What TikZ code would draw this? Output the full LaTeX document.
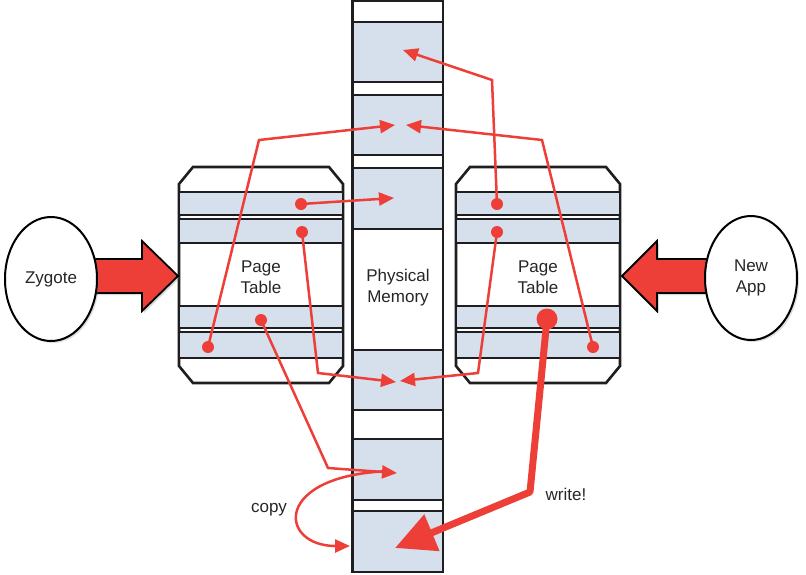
\documentclass[tikz,border=0pt]{standalone}
\usepackage{fontspec}
\setmainfont{Liberation Sans}
\usetikzlibrary{arrows.meta,shadows,shapes.geometric}
\definecolor{pblue}{RGB}{214,224,236}
\definecolor{pred}{RGB}{238,62,56}
\definecolor{pline}{RGB}{30,30,32}
\begin{document}
\begin{tikzpicture}[x=1pt,y=-1pt,
  box/.style={draw=pline,line width=2.6pt,fill=pblue},
  frame/.style={draw=pline,line width=2.6pt,fill=white},
  lbl/.style={font=\fontsize{17}{21}\selectfont,align=center,text=black!85,inner sep=0pt},
  dot/.style={circle,fill=pred,inner sep=0pt,minimum size=12pt},
  bigdot/.style={circle,fill=pred,inner sep=0pt,minimum size=21pt},
  redline/.style={draw=pred,line width=2.5pt,-{Triangle[length=15pt,width=13pt]}},
  thickline/.style={draw=pred,line width=7pt,-{Triangle[length=40pt,width=38pt]}},
  proc/.style={ellipse,draw=black,line width=2pt,fill=white,minimum width=92pt,minimum height=124pt,
    drop shadow={opacity=0.25,shadow xshift=2pt,shadow yshift=-2pt}},
  blockarrow/.style={draw=black,line width=1.8pt,fill=pred,line join=miter,
    drop shadow={opacity=0.3,shadow xshift=2pt,shadow yshift=-2pt}},
  pics/ptable/.style={code={
    \draw[frame] (14,0) -- (150,0) -- (164,17) -- (164,199) -- (150,216) -- (14,216) -- (0,199) -- (0,17) -- cycle;
    \foreach \a/\b in {25/48,52/76,139/161,165/191}
      \draw[box] (0,\a) rectangle (164,\b);
    \node[lbl] (-txt) at (82,110) {Page\\Table};
  }}
]
\useasboundingbox (0,0) rectangle (806,574);

% physical memory column
\draw[frame] (352.5,1) rectangle (443,572);
\foreach \a/\b in {22/82,95/155,168/229,350/410,439/500,511/572}
  \draw[box] (352.5,\a) rectangle (443,\b);
\node[lbl] (pm) at (398,288) {Physical\\Memory};

% page tables
\pic (lt) at (179,167) {ptable};
\pic (rt) at (456,167) {ptable};

% block arrows
\path[blockarrow] (90,259) -- (142,259) -- (142,241) -- (178,276) -- (142,311) -- (142,293) -- (90,293) -- cycle;
\path[blockarrow] (710,259) -- (657,259) -- (657,241) -- (622,276) -- (657,311) -- (657,293) -- (710,293) -- cycle;

% processes
\node[proc,lbl] (zyg) at (51,279) {Zygote};
\node[proc,lbl] (app) at (751,278) {New\\App};

% dots
\node[dot] (l1) at (301,204) {};
\node[dot] (l2) at (302,232) {};
\node[dot] (l3) at (261,320) {};
\node[dot] (l4) at (208,347) {};
\node[dot] (r1) at (497,204) {};
\node[dot] (r2) at (497,232) {};
\node[dot] (r4) at (593,347) {};
\node[bigdot] (r3) at (547,319) {};

% targets and bends
\coordinate (t1) at (403,50);
\coordinate (t2a) at (395,125);
\coordinate (t2b) at (406,125);
\coordinate (t3) at (394,198);
\coordinate (t4a) at (396,382);
\coordinate (t4b) at (400,381);
\coordinate (t5) at (397,473);
\coordinate (t6) at (395,548);
\coordinate (c6) at (350,546);
\coordinate (bl2) at (318,373);
\coordinate (bl3) at (328,468);
\coordinate (bl4) at (259,140);
\coordinate (br1) at (492,80);
\coordinate (br2) at (478,373);
\coordinate (br4) at (542,140);
\coordinate (bbig) at (530,492);
\coordinate (cs) at (392,471);

% connectors
\draw[redline] (l1.center) -- (t3);
\draw[redline] (l2.center) -- (bl2) -- (t4a);
\draw[redline] (l3.center) -- (bl3) -- (t5);
\draw[redline] (l4.center) -- (bl4) -- (t2a);
\draw[redline] (r1.center) -- (br1) -- (t1);
\draw[redline] (r2.center) -- (br2) -- (t4b);
\draw[redline] (r4.center) -- (br4) -- (t2b);
\draw[redline] (cs) .. controls (272,474) and (278,546) .. (c6);
\draw[thickline,line join=round] (r3.center) -- (bbig) -- (t6);

% labels
\node[lbl] (copy) at (269,510) {copy};
\node[lbl] (write) at (566,494) {write!};
\end{tikzpicture}
\end{document}
